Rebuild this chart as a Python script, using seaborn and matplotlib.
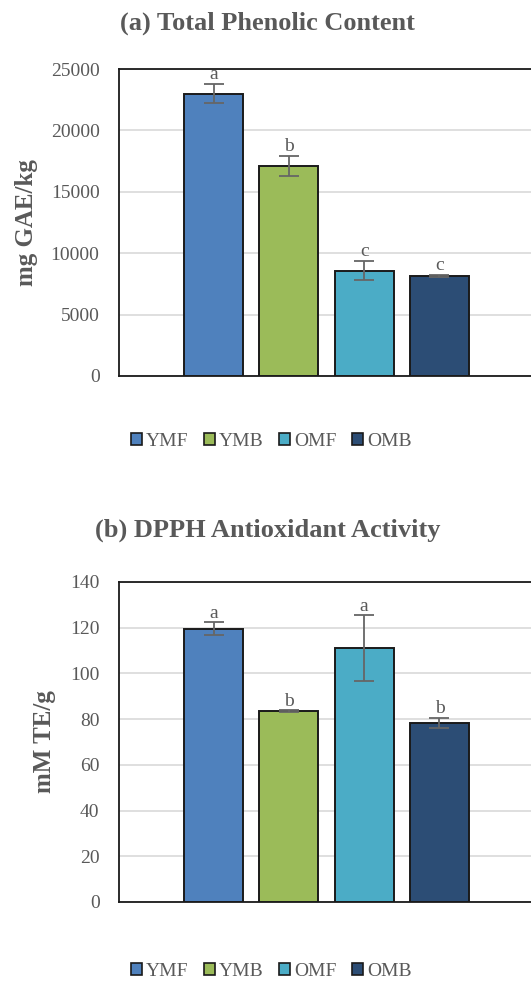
import matplotlib
matplotlib.use("Agg")
import matplotlib.pyplot as plt
import matplotlib.patches as mpatches
import seaborn as sns
import pandas as pd

# Samples and their colours
samples = ["YMF", "YMB", "OMF", "OMB"]
colors = ["#4F81BD", "#9BBB59", "#4BACC6", "#2C4D75"]

# (a) Total phenolic content, mg GAE/kg
tpc_mean = [23000, 17100, 8560, 8130]
tpc_err = [800, 790, 780, 90]
tpc_letters = ["a", "b", "c", "c"]

# (b) DPPH antioxidant activity, mM TE/g
dpph_mean = [119.5, 83.5, 111.1, 78.4]
dpph_err = [2.8, 0.3, 14.3, 2.2]
dpph_letters = ["a", "b", "a", "b"]

sns.set_theme(style="white")
plt.rcParams["font.family"] = ["Liberation Serif", "DejaVu Serif"]

GRAY = "#595959"
W, H = 531, 981
fig = plt.figure(figsize=(W / 100, H / 100), dpi=100)


def panel(rect, means, errs, letters, ymax, ystep, ylabel, ylabel_x, title, title_y, legend_y):
    left, top, right, bottom = rect
    ax = fig.add_axes([left / W, 1 - bottom / H, (right - left) / W, (bottom - top) / H])
    df = pd.DataFrame({"grp": [""] * len(samples), "sample": samples, "value": means})
    sns.barplot(data=df, x="grp", y="value", hue="sample", hue_order=samples,
                palette=colors, saturation=1, width=0.726, gap=0.2165,
                edgecolor="#1a1a1a", linewidth=1.4, errorbar=None, legend=False,
                ax=ax, zorder=3)
    bars = [p for p in ax.patches if p.get_height() > 0][:len(samples)]
    bars.sort(key=lambda p: p.get_x())
    for p, m, e, lab in zip(bars, means, errs, letters):
        cx = p.get_x() + p.get_width() / 2
        ax.errorbar(cx, m, yerr=e, fmt="none", ecolor="#666666", elinewidth=1.3,
                    capsize=7, capthick=1.3, zorder=4)
        ax.annotate(lab, (cx, m + e), xytext=(0, 3.5), textcoords="offset points",
                    ha="center", va="baseline", fontsize=14, color=GRAY)
    ax.set_ylim(0, ymax)
    ax.set_xlim(-0.5, 0.5)
    ax.set_yticks(range(0, ymax + 1, ystep))
    ax.tick_params(axis="y", labelsize=14, labelcolor=GRAY, length=0, pad=14)
    ax.set_xticks([])
    ax.set_xlabel("")
    ax.set_ylabel("")
    ax.yaxis.grid(True, color="#d9d9d9", linewidth=1.2, zorder=0)
    ax.set_axisbelow(True)
    for s in ["left", "top", "bottom"]:
        ax.spines[s].set_color("#1a1a1a")
        ax.spines[s].set_linewidth(1.3)
    ax.spines["right"].set_visible(False)

    fig.text(ylabel_x / W, 1 - (top + bottom) / 2 / H, ylabel, rotation=90,
             ha="center", va="center", fontsize=18, fontweight="bold", color=GRAY)
    fig.text(267.5 / W, 1 - title_y / H, title, ha="center", va="center",
             fontsize=19, fontweight="bold", color=GRAY)
    handles = [mpatches.Patch(facecolor=c, edgecolor="#1a1a1a", linewidth=1.2, label=s)
               for c, s in zip(colors, samples)]
    fig.legend(handles=handles, loc="center", bbox_to_anchor=(271 / W, 1 - legend_y / H),
               bbox_transform=fig.transFigure, ncol=4, frameon=False, fontsize=14,
               labelcolor=GRAY, handlelength=0.57, handleheight=0.57,
               handletextpad=0.2, columnspacing=0.8)
    return ax


panel((119, 69, 534, 376), tpc_mean, tpc_err, tpc_letters, 25000, 5000,
      "mg GAE/kg", 26, "(a) Total Phenolic Content", 23, 441)
panel((119, 582, 534, 902), dpph_mean, dpph_err, dpph_letters, 140, 20,
      "mM TE/g", 44, "(b) DPPH Antioxidant Activity", 530, 971)

fig.savefig("out.png", dpi=100, facecolor="white")
